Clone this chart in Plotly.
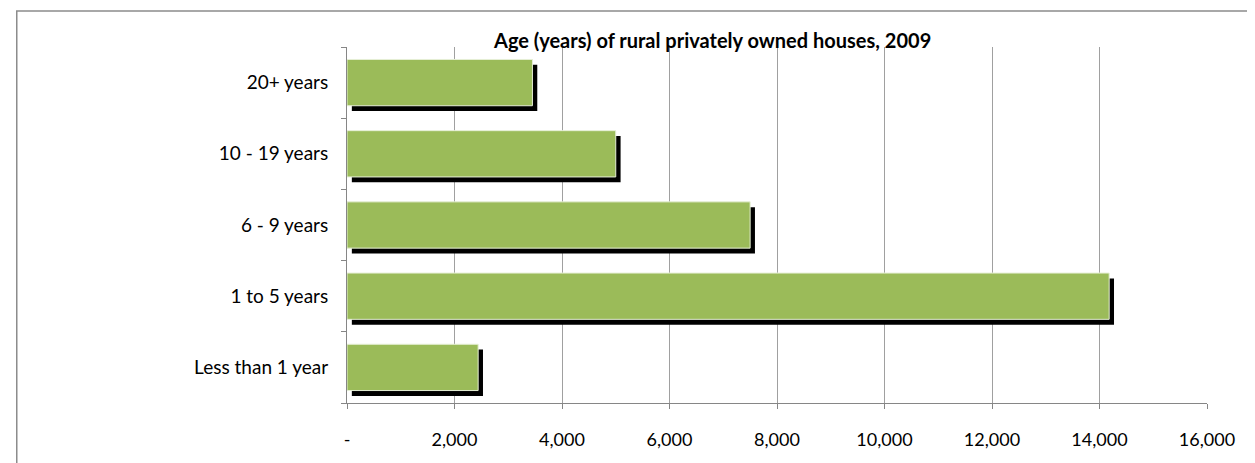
import plotly.graph_objects as go

categories = ["Less than 1 year", "1 to 5 years", "6 - 9 years", "10 - 19 years", "20+ years"]
values = [2440, 14180, 7500, 5000, 3450]
tick_vals = [0, 2000, 4000, 6000, 8000, 10000, 12000, 14000, 16000]
tick_text = ["-", "2,000", "4,000", "6,000", "8,000", "10,000", "12,000", "14,000", "16,000"]
title = "Age (years) of rural privately owned houses, 2009"

FONT = "Lato, Calibri, Carlito, 'Open Sans', sans-serif"
bar_w = 0.65
shadow_dx = 90      # data units to the right
shadow_dy = 0.075   # category units downward

fig = go.Figure()
fig.add_trace(go.Bar(
    y=categories, x=values, orientation="h", base=shadow_dx,
    width=bar_w, offset=-bar_w / 2 - shadow_dy,
    marker=dict(color="black", line=dict(width=0)),
    hoverinfo="skip", showlegend=False,
))
fig.add_trace(go.Bar(
    y=categories, x=values, orientation="h",
    width=bar_w, offset=-bar_w / 2,
    marker=dict(color="#9BBB59", line=dict(color="#E6EFD6", width=1)),
    showlegend=False,
))

fig.update_layout(
    width=1247, height=455,
    margin=dict(l=339, r=48, t=39, b=60),
    barmode="overlay",
    paper_bgcolor="white", plot_bgcolor="white",
    font=dict(family=FONT, size=18, color="black"),
    annotations=[dict(
        text="<b>" + title + "</b>", x=0.424, y=1.02, xref="paper", yref="paper",
        showarrow=False, font=dict(family=FONT, size=20, color="black"),
        xanchor="center", yanchor="middle",
    )],
    shapes=[dict(
        type="rect", xref="paper", yref="paper",
        x0=-0.384, x1=1.2, y0=-0.3, y1=1.101,
        line=dict(color="#8C8C8C", width=1.5), fillcolor="rgba(0,0,0,0)", layer="below",
    )],
)
fig.update_xaxes(
    range=[0, 16000], tickvals=tick_vals, ticktext=tick_text,
    showgrid=True, gridcolor="#A0A0A0", gridwidth=1,
    showline=True, linecolor="#868686", linewidth=1,
    ticks="outside", ticklen=5, tickcolor="#868686",
    ticklabelstandoff=15, zeroline=False,
    tickfont=dict(family=FONT, size=18, color="black"),
)
fig.update_yaxes(
    categoryorder="array", categoryarray=categories,
    range=[-0.5, 4.5],
    showline=True, linecolor="#868686", linewidth=1,
    ticks="outside", ticklen=5, tickcolor="#868686", tickson="boundaries",
    ticklabelstandoff=14, showgrid=False,
    tickfont=dict(family=FONT, size=19, color="black"),
)

fig.write_html("out.html")
